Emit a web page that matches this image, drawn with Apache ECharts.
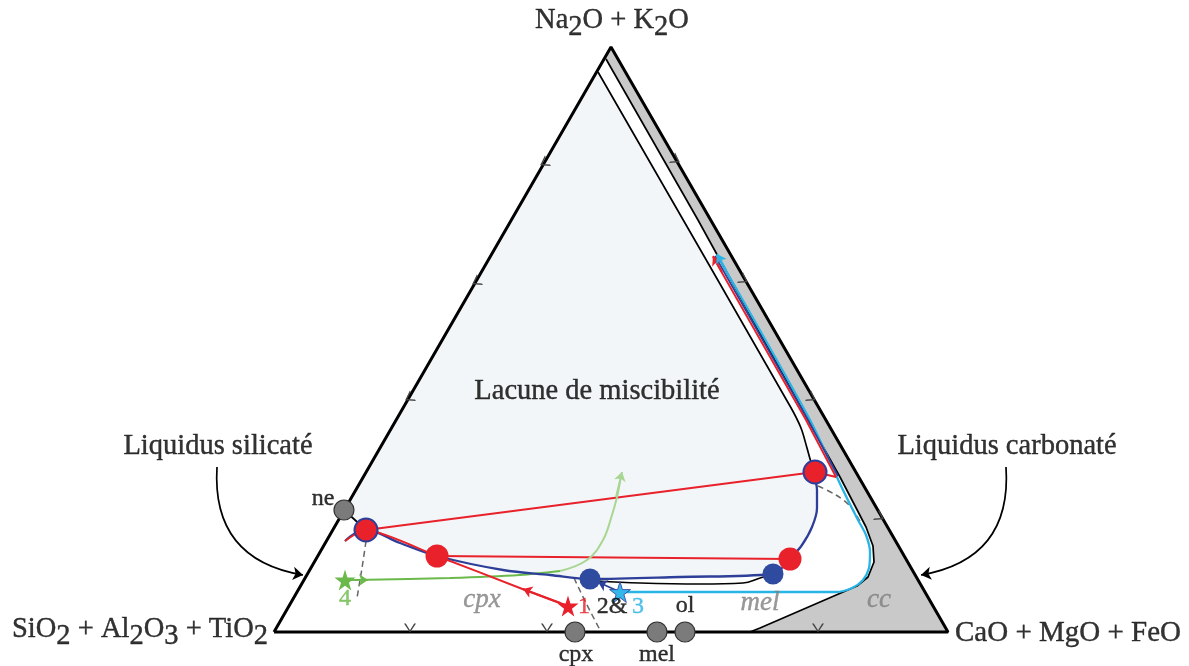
<!DOCTYPE html>
<html><head><meta charset="utf-8">
<script src="https://cdn.jsdelivr.net/npm/echarts/dist/echarts.min.js"></script>
<style>html,body{margin:0;padding:0;background:#fff}#c{width:1189px;height:666px}</style>
</head><body><div id="c"></div>
<script>
// ---- data (diagram coordinates: x right, y down) ----
const triangle = [[274,632],[611,47],[948,632],[274,632]];
const lacunePoly = [[598,72],[344,510],[366,530],[400,543],[437,556],[500,569],[550,575],[590,579],[680,577],[773,574],[790,559],[805,540],[815,515],[818,493],[813,473],[811,462],[807,448],[801,428],[790,406],[598,72]];
const ccPoly = [[611,47],[948,632],[750,632],[760,628],[857,586],[868,577],[874,562],[873,546],[866,527],[840,477],[808,420],[698,220],[606,59]];
const ccInner = [[606,59],[698,220],[808,420],[840,477],[866,527],[873,546],[874,562],[868,577],[857,586],[760,628],[750,632]];
const lacuneLine = [[598,72],[790,406],[801,428],[807,448],[811,462],[815,472]];
const neLink = [[344,510],[366,530]];
const blueCurve = [[345,541],[354,534],[366,530],[400,543],[437,556],[503,570],[550,575],[590,579],[680,577],[773,574],[783,567],[790,559],[802,545],[812,527],[817,508],[817,490],[813,473]];
const blackCurve = [[597,581],[640,583],[700,584],[743,583],[760,578],[773,574]];
const redTie1 = [[366,530],[815,472]];
const redTie2 = [[437,556],[790,559]];
const redPath = [[345,541],[354,535],[366,530],[437,556],[525,590]];
const redPath2 = [[525,590],[568,606]];
const redBand = [[815,472],[836,477],[806,420],[713,257]];
const blueBand = [[838,476],[808,420],[715,256]];
const cyanPath = [[620,592],[836,592],[852,588],[863,580],[869,568],[870,552],[866,535],[858,520],[842,488],[810,420],[717,255]];
const greenDark = [[355,580],[450,578],[520,575],[560,571]];
const greenLight = [[560,571],[587,560],[603,540],[612,515],[617,497],[621,476]];
const dash1 = [[366,541],[362,568],[357,598]];
const dash2 = [[574,578],[586,603],[600,630]];
const dash3 = [[818,486],[836,495],[850,506],[861,523]];
const arrows = [
  {from:[560,603], to:[523,589], color:'#e8212b'},
  {from:[350,580], to:[368,580], color:'#6ab94a'},
  {from:[616,497], to:[622,472], color:'#a9d693'},
  {from:[620,592], to:[598,582], color:'#2d3f98'},
  {from:[722,272], to:[713,256], color:'#e8212b'},
  {from:[726,270], to:[717,254], color:'#29b4e6'}
];
const curvedArrows = [
  {from:[217,467], to:[303,575], curve:-0.45},
  {from:[1006,467], to:[921,575], curve:0.45}
];
const mineralPts = [[344,510],[575,632],[657,632],[685,632]];
const redDots = [[437,556],[790,559]];
const redBlueDots = [[366,530],[815,472]];
const blueDots = [[590,579],[773,574]];
const starRed = [[568,606]];
const starCyan = [[620,592]];
const starGreen = [[345,580]];
const chevLeft = [[409,398],[476,282],[544,163]];
const chevRight = [[676,160],[744,280],[812,398],[880,517]];
const chevBase = [[410,628],[547,628],[818,628]];
// labels: [x, y, text]
const labelsMain = [[612,24,'{a|Na}{s|2}{a|O + K}{s|2}{a|O}']];
const labelLeftAxis = [[268,633,'{a|SiO}{s|2}{a| + Al}{s|2}{a|O}{s|3}{a| + TiO}{s|2}']];
const labelRightAxis = [[955,633,'CaO + MgO + FeO']];
const labelsBig = [[597,392,'Lacune de miscibilité'],[218,447,'Liquidus silicaté'],[1007,447,'Liquidus carbonaté']];
const labelsMin = [[323,499,'ne'],[576,655,'cpx'],[657,655,'mel'],[685,606,'ol']];
const labelsItal = [[482,600,'cpx'],[760,603,'mel'],[879,600,'cc']];
const labelsNum = [[584,607,'1','#e8212b'],[612,607,'2&','#000'],[638,607,'3','#29b4e6'],[345,599,'4','#6ab94a']];

const FONT = '"Liberation Serif","Times New Roman",serif';
const STAR = 'path://M50,0 L61,35 L98,35 L68,57 L79,91 L50,70 L21,91 L32,57 L2,35 L39,35 Z';
const CHEV = 'path://M0,0 L10,6 L0,12 L0,10.2 L7.4,6 L0,1.8 Z';

function poly(points, fill, stroke, z){
  return {type:'custom', coordinateSystem:'cartesian2d', silent:true, z:z, animation:false,
    data:[0], renderItem:function(p, api){
      return {type:'polygon', shape:{points: points.map(function(q){return api.coord(q);})},
        style:{fill:fill, stroke:stroke||'none', lineWidth:0}};
    }};
}
function line(data, color, width, extra){
  return Object.assign({type:'line', data:data, symbol:'none', silent:true, animation:false, z:3,
    lineStyle:{color:color, width:width}}, extra||{});
}
function dots(data, symbol, size, color, border, bw, z){
  return {type:'scatter', data:data, symbol:symbol, symbolSize:size, silent:true, animation:false, z:z||6,
    itemStyle:{color:color, borderColor:border||color, borderWidth:bw||0, opacity:1}};
}
function texts(list, style, align, z){
  return {type:'scatter', symbolSize:1, silent:true, animation:false, z:z||8,
    itemStyle:{color:'rgba(0,0,0,0)'},
    data: list.map(function(t){
      const c = t[3] || style.color || '#000';
      return {value:[t[0],t[1]], label:Object.assign({show:true, position:'inside', align:align||'center', verticalAlign:'middle',
        formatter:t[2], fontFamily:FONT}, style, {color:c, textBorderColor:c, textBorderWidth:0.4})};
    })};
}
const subRich = function(fs){ return {
  a:{fontSize:fs, fontFamily:FONT, color:'#000', textBorderColor:'#000', textBorderWidth:0.4, padding:[0,0,7,0]},
  s:{fontSize:fs, fontFamily:FONT, color:'#000', textBorderColor:'#000', textBorderWidth:0.4, padding:[7,0,0,0]}
};};
const dashStyle = {color:'#666', width:1.5, type:[6,4]};

const series = [
  poly(lacunePoly, '#f3f6f8', null, 1),
  poly(ccPoly, '#c9c9c9', null, 1),
  line(ccInner, '#000', 1.7),
  line(lacuneLine, '#000', 1.7, {smooth:0.3}),
  line(triangle, '#000', 3, {z:4}),
  line(neLink, '#000', 1.7),
  line(blackCurve, '#000', 1.7, {smooth:0.4}),
  line(dash1, '#666', 1.5, {smooth:0.3, lineStyle:dashStyle}),
  line(dash2, '#666', 1.5, {smooth:0.3, lineStyle:dashStyle}),
  line(dash3, '#666', 1.5, {smooth:0.3, lineStyle:dashStyle}),
  line(redTie1, '#e8212b', 1.9),
  line(redTie2, '#e8212b', 1.9),
  line(greenDark, '#6ab94a', 2, {smooth:0.3}),
  line(greenLight, '#a9d693', 2, {smooth:0.4}),
  line(cyanPath, '#29b4e6', 2.3, {smooth:0.25}),
  line(blueBand, '#2d3f98', 1.7),
  line(redBand, '#e8212b', 1.9),
  line(blueCurve, '#2d3f98', 2.3, {smooth:0.35}),
  line(redPath, '#e8212b', 1.9, {smooth:0.2}),
  line(redPath2, '#e8212b', 1.9),
  {type:'lines', coordinateSystem:'cartesian2d', silent:true, animation:false, z:5,
    symbol:['none','arrow'], symbolSize:9,
    data: arrows.map(function(a){return {coords:[a.from, a.to], lineStyle:{color:a.color, width:1.9, opacity:1}};})},
  {type:'lines', coordinateSystem:'cartesian2d', silent:true, animation:false, z:5,
    symbol:['none','arrow'], symbolSize:10,
    data: curvedArrows.map(function(a){return {coords:[a.from, a.to], lineStyle:{color:'#000', width:1.7, opacity:1, curveness:a.curve}};})},
  dots(mineralPts, 'circle', 20, '#7b7b7b', '#333', 1.2),
  dots(redDots, 'circle', 23, '#e8212b'),
  dots(redBlueDots, 'circle', 23, '#e8212b', '#2d3f98', 2),
  dots(blueDots, 'circle', 21, '#2f4b9f'),
  dots(starRed, STAR, 21, '#e8212b'),
  dots(starCyan, STAR, 21, '#35b7ea', '#2d3f98', 0.8),
  dots(starGreen, STAR, 21, '#6ab94a'),
  Object.assign(dots(chevRight, CHEV, [9,12], '#444'), {symbolRotate:-30}),
  Object.assign(dots(chevLeft, CHEV, [9,12], '#444'), {symbolRotate:180+30}),
  Object.assign(dots(chevBase, CHEV, [9,12], '#444'), {symbolRotate:-90}),
  texts(labelsMain, {rich:subRich(28.5)}, 'center'),
  texts(labelLeftAxis, {rich:subRich(28.5)}, 'right'),
  texts(labelRightAxis, {fontSize:29, padding:[0,0,7,0]}, 'left'),
  texts(labelsBig, {fontSize:28.5}, 'center'),
  texts(labelsMin, {fontSize:24}, 'center'),
  texts(labelsItal, {fontSize:27, color:'#7f7f7f', fontStyle:'italic'}, 'center'),
  texts(labelsNum, {fontSize:24}, 'center')
];

const chart = echarts.init(document.getElementById('c'), null, {renderer:'canvas'});
chart.setOption({
  animation:false,
  backgroundColor:'#ffffff',
  grid:{left:0, right:0, top:0, bottom:0},
  xAxis:{type:'value', min:0, max:1189, show:false},
  yAxis:{type:'value', min:0, max:666, inverse:true, show:false},
  series: series
});
</script></body></html>
